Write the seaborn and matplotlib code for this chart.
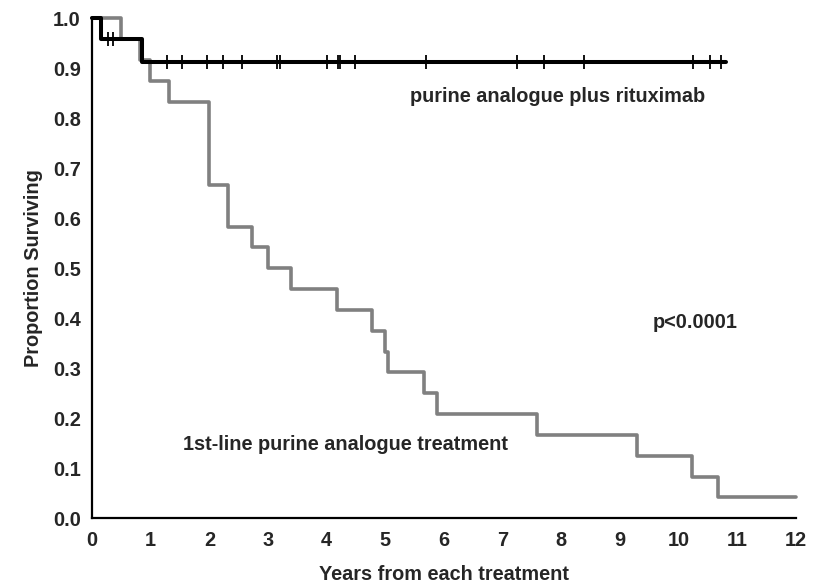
import matplotlib
matplotlib.use("Agg")
import matplotlib.pyplot as plt
import seaborn as sns
import pandas as pd

# ---- data ----
first_line_times = [0, 0.50, 0.82, 0.99, 1.31, 2.00, 2.32, 2.73, 3.00, 3.39, 4.18,
                    4.77, 4.99, 5.05, 5.66, 5.88, 7.58, 9.29, 10.22, 10.67, 12.0]
first_line_surv = [1.0, 0.958, 0.917, 0.875, 0.833, 0.667, 0.583, 0.542, 0.500,
                   0.458, 0.417, 0.375, 0.333, 0.292, 0.250, 0.208, 0.167, 0.125,
                   0.083, 0.042, 0.042]

ritux_times = [0, 0.15, 0.85, 10.80]
ritux_surv = [1.0, 0.958, 0.912, 0.912]
ritux_censor_times = [0.27, 0.36, 1.28, 1.54, 1.96, 2.23, 2.55, 3.15, 3.21, 4.00,
                      4.19, 4.23, 4.49, 5.69, 7.24, 7.71, 8.38, 10.24, 10.53, 10.73]
ritux_censor_surv = [0.958, 0.958] + [0.912] * 18

x_ticks = list(range(0, 13))
y_ticks = [0.0, 0.1, 0.2, 0.3, 0.4, 0.5, 0.6, 0.7, 0.8, 0.9, 1.0]

label_ritux = "purine analogue plus rituximab"
label_first = "1st-line purine analogue treatment"
p_text = "p<0.0001"
x_label = "Years from each treatment"
y_label = "Proportion Surviving"

# ---- style ----
sns.set_style("white")
plt.rcParams["font.family"] = ["Liberation Sans", "DejaVu Sans"]
plt.rcParams["font.weight"] = "bold"
plt.rcParams["axes.labelweight"] = "bold"

FS = 14.3

fig = plt.figure(figsize=(8.17, 5.86), dpi=100)
ax = fig.add_axes([92 / 817, 1 - 518 / 586, (796 - 92) / 817, (518 - 18) / 586])

df_first = pd.DataFrame({"t": first_line_times, "s": first_line_surv})
df_ritux = pd.DataFrame({"t": ritux_times, "s": ritux_surv})
df_cens = pd.DataFrame({"t": ritux_censor_times, "s": ritux_censor_surv})

sns.lineplot(data=df_first, x="t", y="s", drawstyle="steps-post", color="#808080",
             linewidth=2.6, ax=ax, clip_on=False, estimator=None, sort=False)
sns.lineplot(data=df_ritux, x="t", y="s", drawstyle="steps-post", color="black",
             linewidth=2.9, ax=ax, clip_on=False, estimator=None, sort=False)
ax.scatter(df_cens["t"], df_cens["s"], marker="|", s=90, color="black",
           linewidths=1.3, clip_on=False, zorder=5)

ax.set_xlim(0, 12)
ax.set_ylim(0, 1.0)
ax.set_xticks(x_ticks)
ax.set_yticks(y_ticks)
ax.set_xticklabels([str(v) for v in x_ticks], fontsize=FS, fontweight="bold")
ax.set_yticklabels([f"{v:.1f}" for v in y_ticks], fontsize=FS, fontweight="bold")
ax.tick_params(axis="x", direction="in", length=5, width=1.2, pad=9)
ax.tick_params(axis="y", direction="out", length=5, width=1.2, pad=3)

for side in ["top", "right"]:
    ax.spines[side].set_visible(False)
for side in ["left", "bottom"]:
    ax.spines[side].set_color("black")
    ax.spines[side].set_linewidth(1.6)

ax.set_xlabel(x_label, fontsize=FS, fontweight="bold", labelpad=11)
ax.set_ylabel(y_label, fontsize=FS, fontweight="bold", labelpad=7)

ax.text(5.42, 0.842, label_ritux, fontsize=FS, fontweight="bold", va="center", ha="left")
ax.text(1.55, 0.148, label_first, fontsize=FS, fontweight="bold", va="center", ha="left")
ax.text(9.56, 0.39, p_text, fontsize=FS, fontweight="bold", va="center", ha="left")

fig.savefig("out.png", dpi=100)
